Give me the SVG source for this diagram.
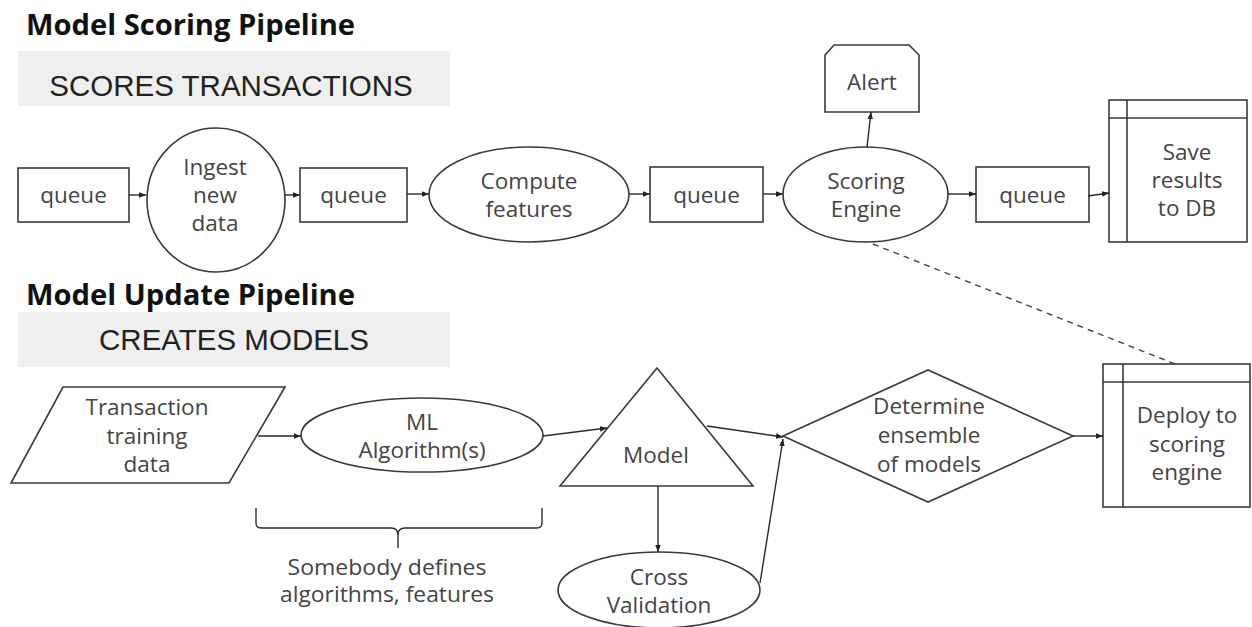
<svg xmlns="http://www.w3.org/2000/svg" width="1252" height="627" viewBox="0 0 1252 627">
<defs>
<style>
.title{font-family:"Open Sans","DejaVu Sans",sans-serif;font-weight:bold;font-size:28px;fill:#111}
.band{fill:#efefef}
.bandtxt{font-family:"Liberation Sans",Arial,sans-serif;font-size:29.5px;fill:#222;text-anchor:middle}
.shape{fill:#fff;stroke:#3a3a3a;stroke-width:1.6}
.t{font-family:"Open Sans","DejaVu Sans",sans-serif;font-size:22.5px;fill:#444;text-anchor:middle}
.note{font-family:"Open Sans","DejaVu Sans",sans-serif;font-size:21.5px;fill:#444;text-anchor:middle}
.c{fill:none;stroke:#2a2a2a;stroke-width:1.4}
.dash{fill:none;stroke:#444;stroke-width:1.4;stroke-dasharray:6 5}
</style>
<marker id="ah" viewBox="0 0 10 10" refX="10" refY="5" markerWidth="7" markerHeight="7" orient="auto" markerUnits="userSpaceOnUse">
<path d="M0,1 L10,5 L0,9 z" fill="#222"/>
</marker>
</defs>
<rect width="1252" height="627" fill="#fff"/>

<g id="header-scoring">
<text class="title" x="26" y="35" textLength="329" lengthAdjust="spacingAndGlyphs">Model Scoring Pipeline</text>
<rect class="band" x="18" y="51" width="432" height="55"/>
<text class="bandtxt" x="231" y="96">SCORES TRANSACTIONS</text>
</g>
<g id="header-update">
<text class="title" x="26" y="305" textLength="329" lengthAdjust="spacingAndGlyphs">Model Update Pipeline</text>
<rect class="band" x="18" y="312" width="432" height="55"/>
<text class="bandtxt" x="234" y="350">CREATES MODELS</text>
</g>

<g id="queue1"><rect class="shape" x="18" y="168" width="111" height="54"/><text class="t" x="73.5" y="203">queue</text></g>
<g id="ingest"><ellipse class="shape" cx="216" cy="200" rx="69" ry="72"/><text class="t" x="215" y="175">Ingest</text><text class="t" x="215" y="203">new</text><text class="t" x="215" y="231">data</text></g>
<g id="queue2"><rect class="shape" x="300" y="168" width="107" height="54"/><text class="t" x="353.5" y="203">queue</text></g>
<g id="compute"><ellipse class="shape" cx="529" cy="194.5" rx="100" ry="47.5"/><text class="t" x="529" y="189">Compute</text><text class="t" x="529" y="217">features</text></g>
<g id="queue3"><rect class="shape" x="650" y="167" width="113" height="55"/><text class="t" x="706.5" y="203">queue</text></g>
<g id="scoring"><ellipse class="shape" cx="865.5" cy="194.5" rx="82.5" ry="47.5"/><text class="t" x="866" y="189">Scoring</text><text class="t" x="866" y="217">Engine</text></g>
<g id="alert"><polygon class="shape" points="825,55 834,45 909,45 919,55 919,112 825,112"/><text class="t" x="872" y="90">Alert</text></g>
<g id="queue4"><rect class="shape" x="976" y="167" width="113" height="55"/><text class="t" x="1032.5" y="203">queue</text></g>
<g id="save"><rect class="shape" x="1109" y="100" width="138" height="142"/><line class="shape" x1="1127" y1="100" x2="1127" y2="242"/><line class="shape" x1="1109" y1="118" x2="1247" y2="118"/><text class="t" x="1187" y="160">Save</text><text class="t" x="1187" y="188">results</text><text class="t" x="1187" y="216">to DB</text></g>

<g id="training"><polygon class="shape" points="63,387 285,387 229,483 11,483"/><text class="t" x="147" y="415">Transaction</text><text class="t" x="147" y="444">training</text><text class="t" x="147" y="472">data</text></g>
<g id="ml"><ellipse class="shape" cx="422" cy="435" rx="121" ry="37"/><text class="t" x="422" y="430">ML</text><text class="t" x="422" y="458">Algorithm(s)</text></g>
<g id="model"><polygon class="shape" points="657,368 753,486 560,486"/><text class="t" x="656" y="463">Model</text></g>
<g id="cross"><ellipse class="shape" cx="659" cy="590" rx="101" ry="38"/><text class="t" x="659" y="585">Cross</text><text class="t" x="659" y="613">Validation</text></g>
<g id="ensemble"><polygon class="shape" points="783,436 928,370 1073,436 928,502"/><text class="t" x="929" y="414">Determine</text><text class="t" x="929" y="443">ensemble</text><text class="t" x="929" y="472">of models</text></g>
<g id="deploy"><rect class="shape" x="1103" y="364" width="147" height="143"/><line class="shape" x1="1123" y1="364" x2="1123" y2="507"/><line class="shape" x1="1103" y1="382" x2="1250" y2="382"/><text class="t" x="1187" y="423">Deploy to</text><text class="t" x="1187" y="452">scoring</text><text class="t" x="1187" y="480">engine</text></g>
<g id="brace-note"><path class="c" d="M256,508 L256,523 Q256,528 261,528 L391,528 Q398,528 398,535 L398,548 M398,535 Q398,528 405,528 L537,528 Q542,528 542,523 L542,508"/><text class="note" x="387" y="575" textLength="199" lengthAdjust="spacingAndGlyphs">Somebody defines</text><text class="note" x="387" y="602" textLength="214" lengthAdjust="spacingAndGlyphs">algorithms, features</text></g>

<g id="connectors">
<line class="c" x1="129" y1="195" x2="146" y2="195" marker-end="url(#ah)"/>
<line class="c" x1="285" y1="195" x2="300" y2="195" marker-end="url(#ah)"/>
<line class="c" x1="407" y1="194" x2="429" y2="194" marker-end="url(#ah)"/>
<line class="c" x1="629" y1="194" x2="650" y2="194" marker-end="url(#ah)"/>
<line class="c" x1="763" y1="194" x2="783" y2="194" marker-end="url(#ah)"/>
<line class="c" x1="948" y1="194" x2="976" y2="194" marker-end="url(#ah)"/>
<line class="c" x1="1088" y1="196" x2="1109" y2="193" marker-end="url(#ah)"/>
<line class="c" x1="867" y1="147" x2="871" y2="112" marker-end="url(#ah)"/>
<line class="dash" x1="873" y1="244" x2="1175" y2="364"/>
<line class="c" x1="258" y1="436" x2="301" y2="436" marker-end="url(#ah)"/>
<line class="c" x1="543" y1="436" x2="607" y2="428" marker-end="url(#ah)"/>
<line class="c" x1="707" y1="426" x2="783" y2="437" marker-end="url(#ah)"/>
<line class="c" x1="658" y1="486" x2="658" y2="552" marker-end="url(#ah)"/>
<line class="c" x1="760" y1="583" x2="783" y2="439" marker-end="url(#ah)"/>
<line class="c" x1="1073" y1="436" x2="1103" y2="436" marker-end="url(#ah)"/>
</g>
</svg>
